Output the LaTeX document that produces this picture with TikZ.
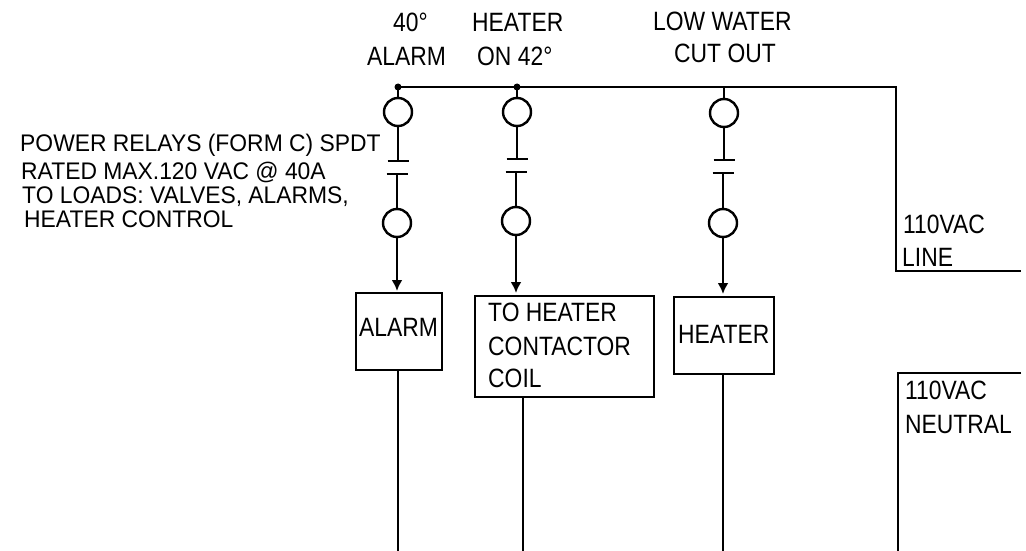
\documentclass[tikz,border=0pt]{standalone}
\usepackage{fontspec}
\setmainfont[FakeStretch=0.863]{Liberation Sans}
\newfontfamily\notefont[FakeStretch=0.953]{Liberation Sans}
\usetikzlibrary{arrows.meta}
\tikzset{wire/.style={draw,line width=2.4pt}}
\tikzset{contact/.style={draw,circle,line width=2.4pt,minimum size=28pt,inner sep=0pt}}
\tikzset{plate/.style={draw,line width=2.4pt}}
\tikzset{load/.style={draw,line width=1.5pt,inner sep=0pt,anchor=north west}}
\tikzset{lbl/.style={inner sep=0pt,anchor=base west,font=\fontsize{26.5}{30}\selectfont}}
\tikzset{note/.style={inner sep=0pt,anchor=base west,font=\notefont\fontsize{24}{28}\selectfont}}
\begin{document}
\begin{tikzpicture}[x=1pt,y=-1pt]
  \useasboundingbox (0,0) rectangle (1026,551);

  % relays
  \foreach \n/\a/\b/\pa/\pb/\ca/\cb/\tip in
  {
  A/398/397/161/174/112/223/291,
  B/517/516/159/172/112/221/293,
  C/724/723/160/173/113/223/294
  }
  {
  \node [contact] (U\n) at (\a,\ca) {};
  \node [contact] (L\n) at (\b,\cb) {};
  \coordinate (T\n) at (\a,87);
  \coordinate (P\n) at (\a,\pa);
  \coordinate (Q\n) at (\b,\pb);
  \coordinate (H\n) at (\b,\tip);
  \draw [wire] (T\n) -- (U\n);
  \draw [wire] (U\n) -- (P\n);
  \draw [wire] (Q\n) -- (L\n);
  \draw [wire,-{Latex[length=11pt,width=11pt]}] (L\n) -- (H\n);
  \draw [plate] ([xshift=-10.5pt]P\n) -- ([xshift=10.5pt]P\n);
  \draw [plate] ([xshift=-10.5pt]Q\n) -- ([xshift=10.5pt]Q\n);
  }

  % junction dots
  \fill (TA) circle (3.5pt);
  \fill (TB) circle (3.5pt);

  % line side
  \coordinate (LineA) at (896,87);
  \coordinate (LineB) at (896,271);
  \coordinate (LineC) at (1021,271);
  \draw [wire] (TA) -- (LineA) -- (LineB) -- (LineC);

  % loads
  \node [load,minimum width=86pt,minimum height=77pt] (Alarm) at (355,292) {};
  \node [load,minimum width=179pt,minimum height=101pt] (Coil) at (474,295) {};
  \node [load,minimum width=100pt,minimum height=77pt] (Heater) at (673,296) {};

  % neutral side
  \coordinate (NeutA) at (1021,373);
  \coordinate (NeutB) at (898,373);
  \coordinate (NeutC) at (898,552);
  \coordinate (BotA) at (398,552);
  \coordinate (BotB) at (523,552);
  \coordinate (BotC) at (723,552);
  \draw [wire] (NeutA) -- (NeutB) -- (NeutC) -- (BotA);
  \draw [wire] (Alarm.south -| BotA) -- (BotA);
  \draw [wire] (Coil.south -| BotB) -- (BotB);
  \draw [wire] (Heater.south -| BotC) -- (BotC);

  % labels
  \foreach \i/\x/\y/\t in
  {
  1/393/32/40°,
  2/367/66/ALARM,
  3/472/32/HEATER,
  4/477/66/ON 42°,
  5/653/31/LOW WATER,
  6/674/63/CUT OUT,
  11/903/233/110VAC,
  12/902/266/LINE,
  13/905/399/110VAC,
  14/905/433/NEUTRAL,
  15/359/336/ALARM,
  16/488/321/TO HEATER,
  17/488/355/CONTACTOR,
  18/488/387/COIL,
  19/678/343/HEATER
  }
  {
  \node [lbl] (N\i) at (\x,\y) {\t};
  }

  % relay note
  \foreach \i/\x/\y/\t in
  {
  7/20/151/POWER RELAYS (FORM C) SPDT,
  8/21/179/RATED MAX.120 VAC @ 40A,
  9/22/203/TO LOADS: VALVES{,} ALARMS{,},
  10/24/227/HEATER CONTROL
  }
  {
  \node [note] (N\i) at (\x,\y) {\t};
  }
\end{tikzpicture}
\end{document}
